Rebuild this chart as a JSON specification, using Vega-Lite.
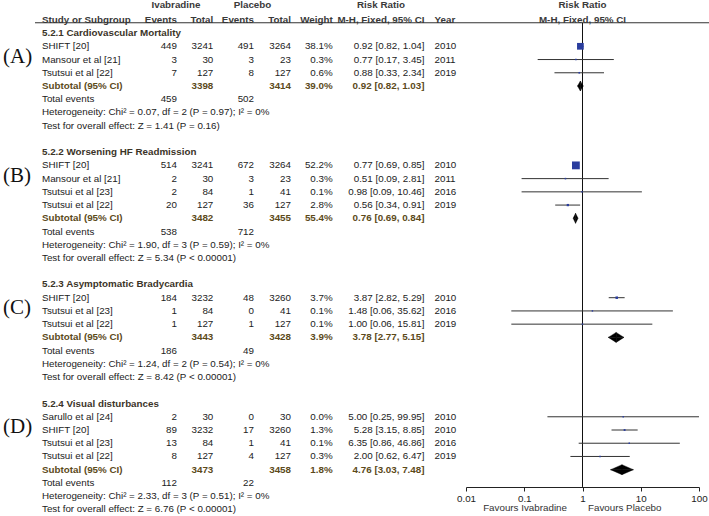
{
  "$schema": "https://vega.github.io/schema/vega-lite/v6.json",
  "width": 709,
  "height": 516,
  "padding": 0,
  "autosize": "none",
  "background": "white",
  "config": {
    "view": {"stroke": null},
    "text": {"font": "Liberation Sans", "fontSize": 9.8, "baseline": "middle"}
  },
  "datasets": {
    "tbl": [
      {"row": -1, "kind": "colhead", "study": "Study or Subgroup", "e1": "Events", "t1": "Total", "e2": "Events", "t2": "Total", "w": "Weight", "ci": "M-H, Fixed, 95% CI", "year": "Year", "g1": "Ivabradine", "g2": "Placebo", "g3": "Risk Ratio", "fh1": "Risk Ratio", "fh2": "M-H, Fixed, 95% CI", "fav1": "Favours Ivabradine", "fav2": "Favours Placebo"},
      {"row": 0, "kind": "head", "study": "5.2.1 Cardiovascular Mortality"},
      {"row": 1, "kind": "study", "study": "SHIFT [20]", "e1": "449", "t1": "3241", "e2": "491", "t2": "3264", "w": "38.1%", "ci": "0.92 [0.82, 1.04]", "year": "2010"},
      {"row": 2, "kind": "study", "panel": "(A)", "study": "Mansour et al [21]", "e1": "3", "t1": "30", "e2": "3", "t2": "23", "w": "0.3%", "ci": "0.77 [0.17, 3.45]", "year": "2011"},
      {"row": 3, "kind": "study", "study": "Tsutsui et al [22]", "e1": "7", "t1": "127", "e2": "8", "t2": "127", "w": "0.6%", "ci": "0.88 [0.33, 2.34]", "year": "2019"},
      {"row": 4, "kind": "sub", "study": "Subtotal (95% CI)", "t1": "3398", "t2": "3414", "w": "39.0%", "ci": "0.92 [0.82, 1.03]"},
      {"row": 5, "kind": "total", "study": "Total events", "e1": "459", "e2": "502"},
      {"row": 6, "kind": "het", "study": "Heterogeneity: Chi² = 0.07, df = 2 (P = 0.97); I² = 0%"},
      {"row": 7, "kind": "test", "study": "Test for overall effect: Z = 1.41 (P = 0.16)"},
      {"row": 9, "kind": "head", "study": "5.2.2 Worsening HF Readmission"},
      {"row": 10, "kind": "study", "study": "SHIFT [20]", "e1": "514", "t1": "3241", "e2": "672", "t2": "3264", "w": "52.2%", "ci": "0.77 [0.69, 0.85]", "year": "2010"},
      {"row": 11, "kind": "study", "panel": "(B)", "study": "Mansour et al [21]", "e1": "2", "t1": "30", "e2": "3", "t2": "23", "w": "0.3%", "ci": "0.51 [0.09, 2.81]", "year": "2011"},
      {"row": 12, "kind": "study", "study": "Tsutsui et al [23]", "e1": "2", "t1": "84", "e2": "1", "t2": "41", "w": "0.1%", "ci": "0.98 [0.09, 10.46]", "year": "2016"},
      {"row": 13, "kind": "study", "study": "Tsutsui et al [22]", "e1": "20", "t1": "127", "e2": "36", "t2": "127", "w": "2.8%", "ci": "0.56 [0.34, 0.91]", "year": "2019"},
      {"row": 14, "kind": "sub", "study": "Subtotal (95% CI)", "t1": "3482", "t2": "3455", "w": "55.4%", "ci": "0.76 [0.69, 0.84]"},
      {"row": 15, "kind": "total", "study": "Total events", "e1": "538", "e2": "712"},
      {"row": 16, "kind": "het", "study": "Heterogeneity: Chi² = 1.90, df = 3 (P = 0.59); I² = 0%"},
      {"row": 17, "kind": "test", "study": "Test for overall effect: Z = 5.34 (P < 0.00001)"},
      {"row": 19, "kind": "head", "study": "5.2.3 Asymptomatic Bradycardia"},
      {"row": 20, "kind": "study", "study": "SHIFT [20]", "e1": "184", "t1": "3232", "e2": "48", "t2": "3260", "w": "3.7%", "ci": "3.87 [2.82, 5.29]", "year": "2010"},
      {"row": 21, "kind": "study", "panel": "(C)", "study": "Tsutsui et al [23]", "e1": "1", "t1": "84", "e2": "0", "t2": "41", "w": "0.1%", "ci": "1.48 [0.06, 35.62]", "year": "2016"},
      {"row": 22, "kind": "study", "study": "Tsutsui et al [22]", "e1": "1", "t1": "127", "e2": "1", "t2": "127", "w": "0.1%", "ci": "1.00 [0.06, 15.81]", "year": "2019"},
      {"row": 23, "kind": "sub", "study": "Subtotal (95% CI)", "t1": "3443", "t2": "3428", "w": "3.9%", "ci": "3.78 [2.77, 5.15]"},
      {"row": 24, "kind": "total", "study": "Total events", "e1": "186", "e2": "49"},
      {"row": 25, "kind": "het", "study": "Heterogeneity: Chi² = 1.24, df = 2 (P = 0.54); I² = 0%"},
      {"row": 26, "kind": "test", "study": "Test for overall effect: Z = 8.42 (P < 0.00001)"},
      {"row": 28, "kind": "head", "study": "5.2.4 Visual disturbances"},
      {"row": 29, "kind": "study", "study": "Sarullo et al [24]", "e1": "2", "t1": "30", "e2": "0", "t2": "30", "w": "0.0%", "ci": "5.00 [0.25, 99.95]", "year": "2010"},
      {"row": 30, "kind": "study", "panel": "(D)", "study": "SHIFT [20]", "e1": "89", "t1": "3232", "e2": "17", "t2": "3260", "w": "1.3%", "ci": "5.28 [3.15, 8.85]", "year": "2010"},
      {"row": 31, "kind": "study", "study": "Tsutsui et al [23]", "e1": "13", "t1": "84", "e2": "1", "t2": "41", "w": "0.1%", "ci": "6.35 [0.86, 46.86]", "year": "2016"},
      {"row": 32, "kind": "study", "study": "Tsutsui et al [22]", "e1": "8", "t1": "127", "e2": "4", "t2": "127", "w": "0.3%", "ci": "2.00 [0.62, 6.47]", "year": "2019"},
      {"row": 33, "kind": "sub", "study": "Subtotal (95% CI)", "t1": "3473", "t2": "3458", "w": "1.8%", "ci": "4.76 [3.03, 7.48]"},
      {"row": 34, "kind": "total", "study": "Total events", "e1": "112", "e2": "22"},
      {"row": 35, "kind": "het", "study": "Heterogeneity: Chi² = 2.33, df = 3 (P = 0.51); I² = 0%"},
      {"row": 36, "kind": "test", "study": "Test for overall effect: Z = 6.76 (P < 0.00001)"}
    ],
    "studies": [
      {"row": 1, "rr": 0.92, "lo": 0.82, "hi": 1.04, "w": 38.1},
      {"row": 2, "rr": 0.77, "lo": 0.17, "hi": 3.45, "w": 0.3},
      {"row": 3, "rr": 0.88, "lo": 0.33, "hi": 2.34, "w": 0.6},
      {"row": 10, "rr": 0.77, "lo": 0.69, "hi": 0.85, "w": 52.2},
      {"row": 11, "rr": 0.51, "lo": 0.09, "hi": 2.81, "w": 0.3},
      {"row": 12, "rr": 0.98, "lo": 0.09, "hi": 10.46, "w": 0.1},
      {"row": 13, "rr": 0.56, "lo": 0.34, "hi": 0.91, "w": 2.8},
      {"row": 20, "rr": 3.87, "lo": 2.82, "hi": 5.29, "w": 3.7},
      {"row": 21, "rr": 1.48, "lo": 0.06, "hi": 35.62, "w": 0.1},
      {"row": 22, "rr": 1.0, "lo": 0.06, "hi": 15.81, "w": 0.1},
      {"row": 29, "rr": 5.0, "lo": 0.25, "hi": 99.95, "w": 0.0},
      {"row": 30, "rr": 5.28, "lo": 3.15, "hi": 8.85, "w": 1.3},
      {"row": 31, "rr": 6.35, "lo": 0.86, "hi": 46.86, "w": 0.1},
      {"row": 32, "rr": 2.0, "lo": 0.62, "hi": 6.47, "w": 0.3}
    ],
    "subtotals": [
      {"row": 4, "est": 0.92, "lo": 0.82, "hi": 1.03},
      {"row": 14, "est": 0.76, "lo": 0.69, "hi": 0.84},
      {"row": 23, "est": 3.78, "lo": 2.77, "hi": 5.15},
      {"row": 33, "est": 4.76, "lo": 3.03, "hi": 7.48}
    ]
  },
  "layer": [
    {
      "data": {"name": "tbl"},
      "encoding": {
        "y": {"field": "row", "type": "quantitative", "scale": {"domain": [-2.5, 36.5], "reverse": true, "nice": false, "zero": false}, "axis": null},
        "color": {"condition": [{"test": "datum.kind === 'sub'", "value": "#5c4a1a"}, {"test": "datum.kind === 'head'", "value": "#3b3428"}, {"test": "datum.kind === 'colhead'", "value": "#3a3a3a"}], "value": "#222222"}
      },
      "layer": [
        {"transform": [{"filter": "isValid(datum.study) && datum.kind !== 'colhead' && datum.kind !== 'head' && datum.kind !== 'sub'"}], "mark": {"type": "text", "align": "left"}, "encoding": {"x": {"datum": 42, "type": "quantitative", "scale": {"domain": [0, 709], "nice": false, "zero": false}, "axis": null}, "text": {"field": "study"}}},
        {"transform": [{"filter": "isValid(datum.study) && (datum.kind === 'colhead' || datum.kind === 'head' || datum.kind === 'sub')"}], "mark": {"type": "text", "align": "left", "fontWeight": "bold"}, "encoding": {"x": {"datum": 42, "type": "quantitative", "axis": null}, "text": {"field": "study"}}},
        {"transform": [{"filter": "isValid(datum.e1) && datum.kind !== 'colhead' && datum.kind !== 'sub'"}], "mark": {"type": "text", "align": "right"}, "encoding": {"x": {"datum": 177, "type": "quantitative", "axis": null}, "text": {"field": "e1"}}},
        {"transform": [{"filter": "isValid(datum.e1) && (datum.kind === 'colhead' || datum.kind === 'sub')"}], "mark": {"type": "text", "align": "right", "fontWeight": "bold"}, "encoding": {"x": {"datum": 177, "type": "quantitative", "axis": null}, "text": {"field": "e1"}}},
        {"transform": [{"filter": "isValid(datum.t1) && datum.kind !== 'colhead' && datum.kind !== 'sub'"}], "mark": {"type": "text", "align": "right"}, "encoding": {"x": {"datum": 213.3, "type": "quantitative", "axis": null}, "text": {"field": "t1"}}},
        {"transform": [{"filter": "isValid(datum.t1) && (datum.kind === 'colhead' || datum.kind === 'sub')"}], "mark": {"type": "text", "align": "right", "fontWeight": "bold"}, "encoding": {"x": {"datum": 213.3, "type": "quantitative", "axis": null}, "text": {"field": "t1"}}},
        {"transform": [{"filter": "isValid(datum.e2) && datum.kind !== 'colhead' && datum.kind !== 'sub'"}], "mark": {"type": "text", "align": "right"}, "encoding": {"x": {"datum": 254, "type": "quantitative", "axis": null}, "text": {"field": "e2"}}},
        {"transform": [{"filter": "isValid(datum.e2) && (datum.kind === 'colhead' || datum.kind === 'sub')"}], "mark": {"type": "text", "align": "right", "fontWeight": "bold"}, "encoding": {"x": {"datum": 254, "type": "quantitative", "axis": null}, "text": {"field": "e2"}}},
        {"transform": [{"filter": "isValid(datum.t2) && datum.kind !== 'colhead' && datum.kind !== 'sub'"}], "mark": {"type": "text", "align": "right"}, "encoding": {"x": {"datum": 291, "type": "quantitative", "axis": null}, "text": {"field": "t2"}}},
        {"transform": [{"filter": "isValid(datum.t2) && (datum.kind === 'colhead' || datum.kind === 'sub')"}], "mark": {"type": "text", "align": "right", "fontWeight": "bold"}, "encoding": {"x": {"datum": 291, "type": "quantitative", "axis": null}, "text": {"field": "t2"}}},
        {"transform": [{"filter": "isValid(datum.w) && datum.kind !== 'colhead' && datum.kind !== 'sub'"}], "mark": {"type": "text", "align": "right"}, "encoding": {"x": {"datum": 332.7, "type": "quantitative", "axis": null}, "text": {"field": "w"}}},
        {"transform": [{"filter": "isValid(datum.w) && (datum.kind === 'colhead' || datum.kind === 'sub')"}], "mark": {"type": "text", "align": "right", "fontWeight": "bold"}, "encoding": {"x": {"datum": 332.7, "type": "quantitative", "axis": null}, "text": {"field": "w"}}},
        {"transform": [{"filter": "isValid(datum.ci) && datum.kind !== 'colhead' && datum.kind !== 'sub'"}], "mark": {"type": "text", "align": "right"}, "encoding": {"x": {"datum": 424.5, "type": "quantitative", "axis": null}, "text": {"field": "ci"}}},
        {"transform": [{"filter": "isValid(datum.ci) && (datum.kind === 'colhead' || datum.kind === 'sub')"}], "mark": {"type": "text", "align": "right", "fontWeight": "bold"}, "encoding": {"x": {"datum": 424.5, "type": "quantitative", "axis": null}, "text": {"field": "ci"}}},
        {"transform": [{"filter": "isValid(datum.year) && datum.kind !== 'colhead'"}], "mark": {"type": "text", "align": "left"}, "encoding": {"x": {"datum": 434.5, "type": "quantitative", "axis": null}, "text": {"field": "year"}}},
        {"transform": [{"filter": "isValid(datum.year) && datum.kind === 'colhead'"}], "mark": {"type": "text", "align": "left", "fontWeight": "bold"}, "encoding": {"x": {"datum": 434.5, "type": "quantitative", "axis": null}, "text": {"field": "year"}}},
        {"transform": [{"filter": "isValid(datum.panel)"}], "mark": {"type": "text", "align": "left", "font": "Liberation Serif", "fontSize": 21, "dy": -3}, "encoding": {"x": {"datum": 3, "type": "quantitative", "axis": null}, "text": {"field": "panel"}, "color": {"value": "#111111"}}},
        {"transform": [{"filter": "datum.kind === 'colhead'"}], "mark": {"type": "rule", "strokeWidth": 1}, "encoding": {"x": {"datum": 35, "type": "quantitative", "axis": null}, "x2": {"datum": 709}, "y": {"datum": -0.78, "type": "quantitative", "axis": null}, "color": {"value": "#333333"}}},
        {"transform": [{"filter": "datum.kind === 'colhead'"}], "mark": {"type": "text", "align": "center", "fontWeight": "bold"}, "encoding": {"x": {"datum": 176, "type": "quantitative", "axis": null}, "y": {"datum": -2.1, "type": "quantitative", "axis": null}, "text": {"field": "g1"}}},
        {"transform": [{"filter": "datum.kind === 'colhead'"}], "mark": {"type": "text", "align": "center", "fontWeight": "bold"}, "encoding": {"x": {"datum": 252.5, "type": "quantitative", "axis": null}, "y": {"datum": -2.1, "type": "quantitative", "axis": null}, "text": {"field": "g2"}}},
        {"transform": [{"filter": "datum.kind === 'colhead'"}], "mark": {"type": "text", "align": "center", "fontWeight": "bold"}, "encoding": {"x": {"datum": 381, "type": "quantitative", "axis": null}, "y": {"datum": -2.1, "type": "quantitative", "axis": null}, "text": {"field": "g3"}}},
        {"transform": [{"filter": "datum.kind === 'colhead'"}], "mark": {"type": "text", "align": "center", "fontWeight": "bold"}, "encoding": {"x": {"datum": 582.5, "type": "quantitative", "axis": null}, "y": {"datum": -2.1, "type": "quantitative", "axis": null}, "text": {"field": "fh1"}}},
        {"transform": [{"filter": "datum.kind === 'colhead'"}], "mark": {"type": "text", "align": "center", "fontWeight": "bold"}, "encoding": {"x": {"datum": 582.5, "type": "quantitative", "axis": null}, "text": {"field": "fh2"}}},
        {"transform": [{"filter": "datum.kind === 'colhead'"}], "mark": {"type": "text", "align": "right"}, "encoding": {"x": {"datum": 567, "type": "quantitative", "axis": null}, "y": {"datum": 35.9, "type": "quantitative", "axis": null}, "text": {"field": "fav1"}, "color": {"value": "#333333"}}},
        {"transform": [{"filter": "datum.kind === 'colhead'"}], "mark": {"type": "text", "align": "left"}, "encoding": {"x": {"datum": 588, "type": "quantitative", "axis": null}, "y": {"datum": 35.9, "type": "quantitative", "axis": null}, "text": {"field": "fav2"}, "color": {"value": "#333333"}}}
      ]
    },
    {
      "layer": [
        {
          "data": {"values": [{}]},
          "mark": {"type": "rule", "color": "#111111", "strokeWidth": 1, "yOffset": 3, "y2Offset": 4},
          "encoding": {
            "x": {"datum": 1, "type": "quantitative", "scale": {"type": "log", "domain": [0.01, 100], "range": [466, 699], "nice": false},
              "axis": {"orient": "bottom", "offset": -29, "values": [0.01, 0.1, 1, 10, 100], "format": "~g", "labelFont": "Liberation Sans", "labelFontSize": 9.8, "labelColor": "#222222", "domainColor": "#222222", "tickColor": "#222222", "tickSize": 4, "labelPadding": 2, "grid": false, "title": null, "labelFlush": false, "labelOverlap": false}},
            "y": {"datum": -1, "type": "ordinal", "scale": {"type": "band", "domain": [-2,-1,0,1,2,3,4,5,6,7,8,9,10,11,12,13,14,15,16,17,18,19,20,21,22,23,24,25,26,27,28,29,30,31,32,33,34,35,36], "paddingInner": 0, "paddingOuter": 0}, "axis": null},
            "y2": {"datum": 34}
          }
        },
        {
          "data": {"name": "studies"},
          "mark": {"type": "rule", "color": "#333333", "strokeWidth": 1},
          "encoding": {"x": {"field": "lo", "type": "quantitative"}, "x2": {"field": "hi"}, "y": {"field": "row", "type": "ordinal", "axis": null}}
        },
        {
          "data": {"name": "studies"},
          "mark": {"type": "point", "shape": "square", "filled": true, "color": "#2a3d9e", "opacity": 1, "strokeWidth": 0},
          "encoding": {"x": {"field": "rr", "type": "quantitative"}, "y": {"field": "row", "type": "ordinal", "axis": null}, "size": {"field": "w", "type": "quantitative", "scale": {"domain": [0, 60], "range": [2, 70]}, "legend": null}}
        },
        {
          "data": {"name": "subtotals"},
          "transform": [{"fold": ["lo", "est"], "as": ["k", "v"]}],
          "mark": {"type": "area", "orient": "vertical", "color": "#000000", "opacity": 1, "stroke": "#000000", "strokeWidth": 0.4},
          "encoding": {"x": {"field": "v", "type": "quantitative"}, "y": {"field": "row", "type": "ordinal", "axis": null}, "y2": {"field": "row"}, "yOffset": {"field": "k", "type": "nominal", "scale": {"type": "point", "domain": ["lo", "est"], "range": [6.615, 1.615], "padding": 0}}, "detail": {"field": "row"}}
        },
        {
          "data": {"name": "subtotals"},
          "transform": [{"fold": ["hi", "est"], "as": ["k", "v"]}],
          "mark": {"type": "area", "orient": "vertical", "color": "#000000", "opacity": 1, "stroke": "#000000", "strokeWidth": 0.4},
          "encoding": {"x": {"field": "v", "type": "quantitative"}, "y": {"field": "row", "type": "ordinal", "axis": null}, "y2": {"field": "row"}, "yOffset": {"field": "k", "type": "nominal", "scale": {"type": "point", "domain": ["hi", "est"], "range": [6.615, 1.615], "padding": 0}}, "detail": {"field": "row"}}
        },
        {
          "data": {"name": "subtotals"},
          "transform": [{"fold": ["lo", "est"], "as": ["k", "v"]}],
          "mark": {"type": "area", "orient": "vertical", "color": "#000000", "opacity": 1, "stroke": "#000000", "strokeWidth": 0.4},
          "encoding": {"x": {"field": "v", "type": "quantitative"}, "y": {"field": "row", "type": "ordinal", "axis": null}, "y2": {"field": "row"}, "yOffset": {"field": "k", "type": "nominal", "scale": {"type": "point", "domain": ["lo", "est"], "range": [6.615, 11.615], "padding": 0}}, "detail": {"field": "row"}}
        },
        {
          "data": {"name": "subtotals"},
          "transform": [{"fold": ["hi", "est"], "as": ["k", "v"]}],
          "mark": {"type": "area", "orient": "vertical", "color": "#000000", "opacity": 1, "stroke": "#000000", "strokeWidth": 0.4},
          "encoding": {"x": {"field": "v", "type": "quantitative"}, "y": {"field": "row", "type": "ordinal", "axis": null}, "y2": {"field": "row"}, "yOffset": {"field": "k", "type": "nominal", "scale": {"type": "point", "domain": ["hi", "est"], "range": [6.615, 11.615], "padding": 0}}, "detail": {"field": "row"}}
        }
      ],
      "resolve": {"scale": {"yOffset": "independent"}}
    }
  ],
  "resolve": {"scale": {"x": "independent", "y": "independent", "color": "independent"}}
}
